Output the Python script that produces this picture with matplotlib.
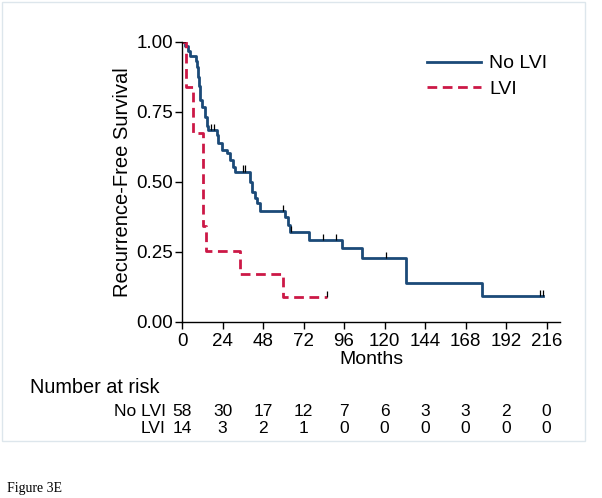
import matplotlib
matplotlib.use("Agg")
import matplotlib.pyplot as plt
from matplotlib.patches import Rectangle
from matplotlib.lines import Line2D

plt.rcParams['font.family'] = ['Liberation Sans', 'DejaVu Sans']

# Kaplan-Meier steps
no_lvi_t = [0, 2, 3.5, 4.7, 8.1, 8.8, 9.3, 10, 10.7, 11.7, 13.6, 14.8, 15.6,
            20.5, 21.5, 23.5, 26.5, 28.4, 30.4, 31.4, 40.3, 41.3, 43.2, 44.6,
            46.2, 61, 63, 64, 75.4, 94.6, 106.6, 133, 177.5, 213.7]
no_lvi_s = [1.0, 0.983, 0.966, 0.948, 0.93, 0.91, 0.875, 0.84, 0.79, 0.768,
            0.732, 0.70, 0.685, 0.667, 0.637, 0.613, 0.601, 0.577, 0.554,
            0.536, 0.50, 0.464, 0.443, 0.423, 0.395, 0.375, 0.345, 0.321,
            0.292, 0.262, 0.226, 0.137, 0.092, 0.092]
no_lvi_cens_t = [0.6, 1.2, 1.8, 17, 19, 36.3, 37.3, 60, 64.4, 83.3, 91.2,
                 120.9, 212, 213.7]
no_lvi_cens_s = [1.0, 1.0, 1.0, 0.685, 0.685, 0.536, 0.536, 0.395, 0.321,
                 0.292, 0.292, 0.226, 0.092, 0.092]

lvi_t = [0, 2.4, 6.7, 12.6, 14.2, 34.2, 59.8, 85.7]
lvi_s = [1.0, 0.838, 0.673, 0.34, 0.252, 0.170, 0.089, 0.089]
lvi_cens_t = [85.7]
lvi_cens_s = [0.089]

xticks = [0, 24, 48, 72, 96, 120, 144, 168, 192, 216]
yticks = [0.0, 0.25, 0.5, 0.75, 1.0]
risk_no_lvi = [58, 30, 17, 12, 7, 6, 3, 3, 2, 0]
risk_lvi = [14, 3, 2, 1, 0, 0, 0, 0, 0, 0]

navy = "#1b4a78"
red = "#cc1846"

W, H = 602, 498
fig = plt.figure(figsize=(W / 100, H / 100), dpi=100)

# light outline of the graph region
fig.patches.append(Rectangle((2 / W, 1 - 441 / H), 583 / W, 439 / H,
                             transform=fig.transFigure, fill=False,
                             edgecolor="#dde6ec", linewidth=1))

ax = fig.add_axes([182 / W, 1 - 321.7 / H, (560 - 182) / W, 280 / H])
ax.step(no_lvi_t, no_lvi_s, where="post", color=navy, linewidth=2)
ax.step(lvi_t, lvi_s, where="post", color=red, linewidth=2,
        linestyle=(0, (3.5, 2)))
ax.vlines(no_lvi_cens_t, no_lvi_cens_s, [s + 0.022 for s in no_lvi_cens_s],
          color="black", linewidth=0.9)
ax.vlines(lvi_cens_t, lvi_cens_s, [s + 0.022 for s in lvi_cens_s],
          color="black", linewidth=0.9)

ax.set_xlim(0, 224)
ax.set_ylim(0, 1.0)
ax.set_xticks(xticks)
ax.set_yticks(yticks)
ax.set_yticklabels(["%.2f" % y for y in yticks])
ax.tick_params(labelsize=13.5, length=5, width=1)
ax.tick_params(axis="x", pad=3)
ax.tick_params(axis="y", pad=1.5)
for sp in ["top", "right"]:
    ax.spines[sp].set_visible(False)
ax.spines["left"].set_linewidth(1)
ax.spines["bottom"].set_linewidth(1)
ax.set_ylabel("Recurrence-Free Survival", fontsize=14.5, labelpad=3)
ax.set_xlabel("Months", fontsize=14, labelpad=1)

handles = [Line2D([], [], color=navy, linewidth=2),
           Line2D([], [], color=red, linewidth=2, linestyle=(0, (3.5, 2)))]
fig.legend(handles, ["No LVI", "LVI"], loc="upper left",
           bbox_to_anchor=(417 / W, 1 - 45 / H), frameon=False, fontsize=14,
           handlelength=2.8, handletextpad=0.4, borderpad=0, labelspacing=0.4)

# number at risk table
fig.text(30 / W, 1 - 387 / H, "Number at risk", fontsize=14.3, va="center")
x2fig = lambda t: (182 + t * (560 - 182) / 224) / W
for label, row, y in [("No LVI", risk_no_lvi, 411), ("LVI", risk_lvi, 428)]:
    fig.text(166 / W, 1 - y / H, label, fontsize=12.5, ha="right", va="center")
    for t, n in zip(xticks, row):
        fig.text(x2fig(t), 1 - y / H, str(n), fontsize=12.5, ha="center",
                 va="center")

fig.text(7 / W, 1 - 488 / H, "Figure 3E", fontsize=10,
         family=["Liberation Serif", "DejaVu Serif"], va="center")

fig.savefig("out.png", dpi=100)
